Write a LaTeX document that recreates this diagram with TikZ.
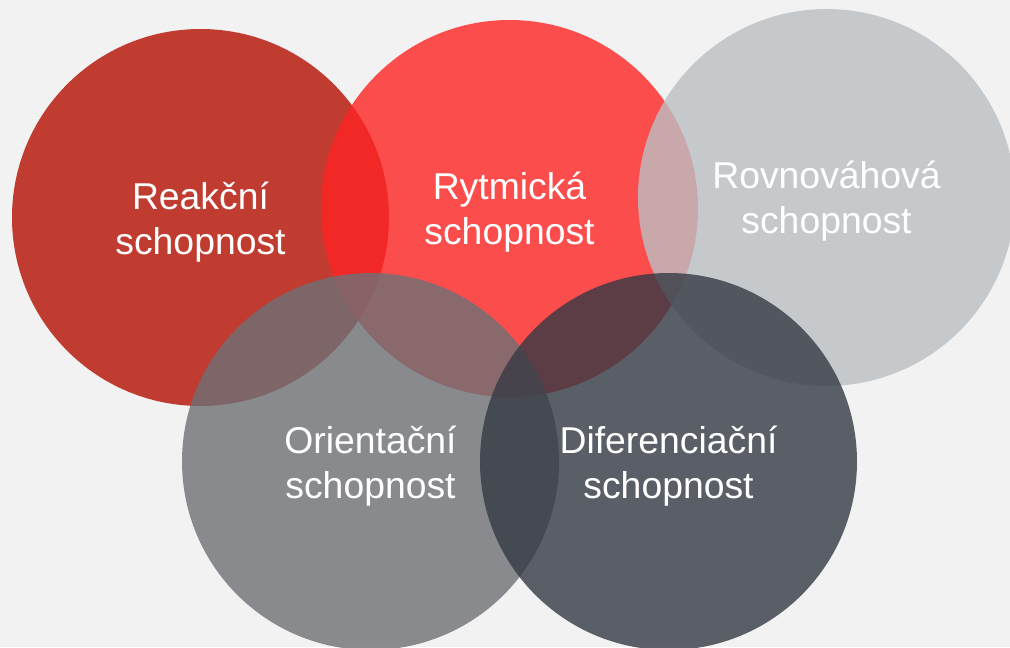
\documentclass[tikz,border=0pt]{standalone}
\usepackage{fontspec}
\setmainfont{Liberation Sans}
\begin{document}
\begin{tikzpicture}[x=0.75pt,y=-0.75pt,
  venn/.style={fill opacity=0.8},
  lbl/.style={text=white,align=center,anchor=base,inner sep=0pt,
    font=\fontsize{28pt}{33.75pt}\selectfont}]
\definecolor{bgc}{RGB}{242,242,242}
\definecolor{cReak}{RGB}{180,15,0}
\definecolor{cRytm}{RGB}{255,36,36}
\definecolor{cRovn}{RGB}{188,191,195}
\definecolor{cOrie}{RGB}{110,113,118}
\definecolor{cDife}{RGB}{53,58,68}
\fill[bgc] (0,0) rectangle (1010,647);
\useasboundingbox (0,0) rectangle (1010,647);
\begin{scope}
\clip (0,0) rectangle (1010,647);
\fill[venn,cReak] (200.5,217.5) circle[radius=141.375pt];
\fill[venn,cRytm] (509.5,208.5) circle[radius=141.375pt];
\fill[venn,cRovn] (826.5,197.5) circle[radius=141.375pt];
\fill[venn,cOrie] (370.5,461.5) circle[radius=141.375pt];
\fill[venn,cDife] (668.5,461.5) circle[radius=141.375pt];
\end{scope}
% anchor=base sits on the baseline of the second line
\node[lbl] (reak) at (200.5,254) {Reakční\\schopnost};
\node[lbl] (rytm) at (509.5,244) {Rytmická\\schopnost};
\node[lbl] (rovn) at (826.5,233) {Rovnováhová\\schopnost};
\node[lbl] (orie) at (370.5,498) {Orientační\\schopnost};
\node[lbl] (dife) at (668.5,498) {Diferenciační\\schopnost};
\end{tikzpicture}
\end{document}
